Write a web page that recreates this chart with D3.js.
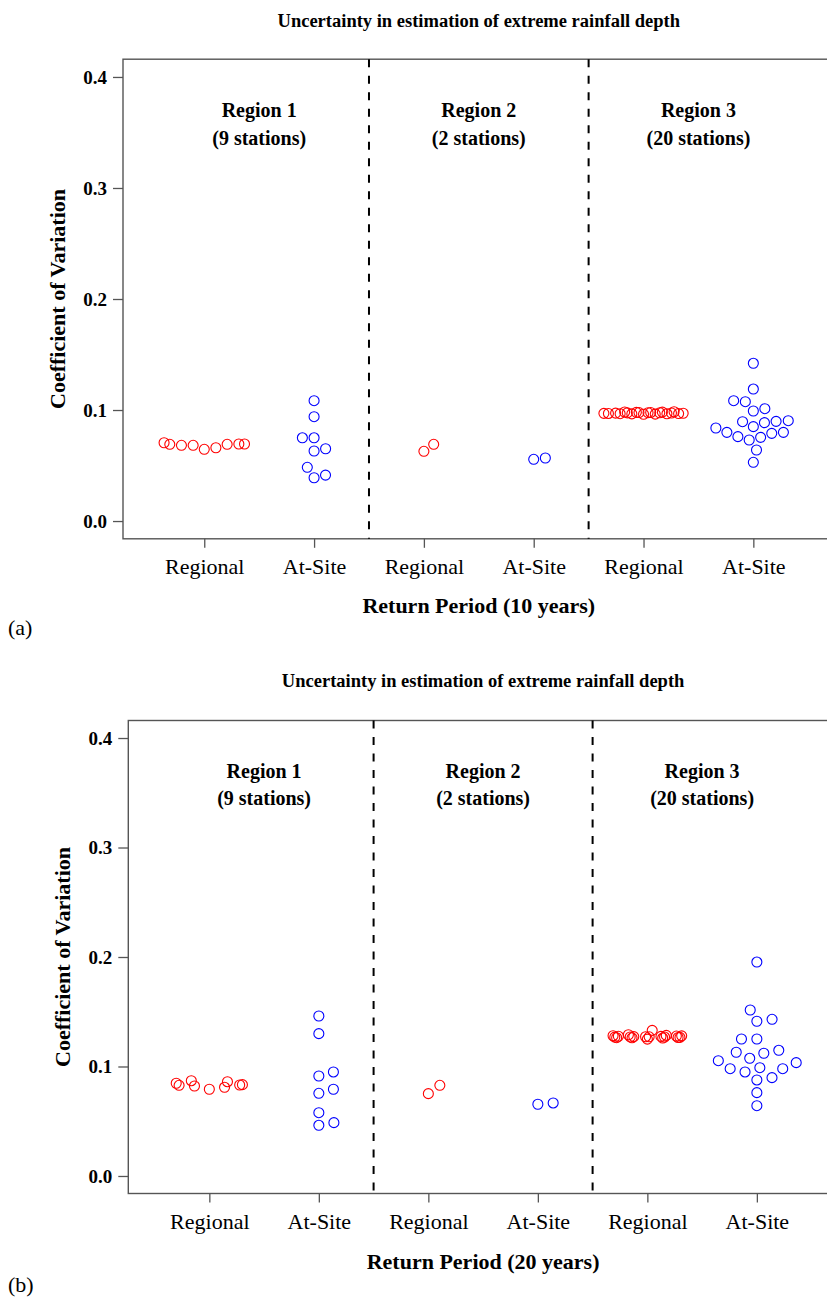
<!DOCTYPE html>
<html>
<head>
<meta charset="utf-8">
<script src="https://cdn.jsdelivr.net/npm/d3@7/dist/d3.min.js"></script>
<style>
  html, body { margin: 0; padding: 0; background: #fff; }
  svg { display: block; }
</style>
</head>
<body>
<svg id="chart" width="827" height="1298" font-family="'Liberation Serif', serif"></svg>
<script>
// ---------------- DATA ----------------
const chartTitle = "Uncertainty in estimation of extreme rainfall depth";
const yAxisTitle = "Coefficient of Variation";
const categories = ["Regional", "At-Site", "Regional", "At-Site", "Regional", "At-Site"];
const regionLabels = ["Region 1", "Region 2", "Region 3"];
const stationLabels = ["(9 stations)", "(2 stations)", "(20 stations)"];
const yTicks = [0.0, 0.1, 0.2, 0.3, 0.4];
const panelTags = ["(a)", "(b)"];
const xAxisTitles = ["Return Period (10 years)", "Return Period (20 years)"];

// Return period 10 years
const rp10_r1_regional = [0.0705, 0.0691, 0.0682, 0.0682, 0.0646, 0.0660, 0.0694, 0.0694, 0.0691];
const rp10_r1_atsite   = [0.1084, 0.0940, 0.0750, 0.0750, 0.0631, 0.0651, 0.0484, 0.0390, 0.0414];
const rp10_r2_regional = [0.0628, 0.0691];
const rp10_r2_atsite   = [0.0556, 0.0568];
const rp10_r3_regional = [0.0965, 0.0978, 0.0972, 0.0968, 0.0981, 0.0975, 0.0970, 0.0963, 0.0977, 0.0984,
                          0.0969, 0.0974, 0.0966, 0.0979, 0.0971, 0.0976, 0.0967, 0.0982, 0.0973, 0.0962];
const rp10_r3_atsite   = [0.1421, 0.1189, 0.1084, 0.1075, 0.0991, 0.1012, 0.0904, 0.0895, 0.0886, 0.0898,
                          0.0850, 0.0838, 0.0799, 0.0760, 0.0730, 0.0754, 0.0790, 0.0799, 0.0640, 0.0529];

// Return period 20 years
const rp20_r1_regional = [0.0847, 0.0828, 0.0870, 0.0822, 0.0792, 0.0861, 0.0810, 0.0831, 0.0834];
const rp20_r1_atsite   = [0.1461, 0.1300, 0.0913, 0.0950, 0.0755, 0.0792, 0.0578, 0.0463, 0.0487];
const rp20_r2_regional = [0.0752, 0.0828];
const rp20_r2_atsite   = [0.0655, 0.0667];
const rp20_r3_regional = [0.1268, 0.1275, 0.1262, 0.1280, 0.1271, 0.1265, 0.1290, 0.1330, 0.1250, 0.1273,
                          0.1266, 0.1278, 0.1260, 0.1284, 0.1270, 0.1276, 0.1263, 0.1272, 0.1269, 0.1281];
const rp20_r3_atsite   = [0.1954, 0.1516, 0.1413, 0.1431, 0.1251, 0.1251, 0.1130, 0.1148, 0.1075, 0.1121,
                          0.1035, 0.1053, 0.0989, 0.0980, 0.0980, 0.0950, 0.0898, 0.0877, 0.0761, 0.0642];

const groupColors = ["#ff0000", "#0000ff"]; // Regional, At-Site

// ---------------- LAYOUT ----------------
const panels = [
  { tag: panelTags[0], xtitle: xAxisTitles[0],
    groups: [rp10_r1_regional, rp10_r1_atsite, rp10_r2_regional, rp10_r2_atsite, rp10_r3_regional, rp10_r3_atsite],
    left: 123, right: 834.6, top: 59.2, bottom: 538.8,
    titleY: 27, tickLabY: 574, xTitleY: 613, tagY: 635, yTitleX: 57,
    swarmX: 11.7, swarmY: 12.8 },
  { tag: panelTags[1], xtitle: xAxisTitles[1],
    groups: [rp20_r1_regional, rp20_r1_atsite, rp20_r2_regional, rp20_r2_atsite, rp20_r3_regional, rp20_r3_atsite],
    left: 128.3, right: 837.9, top: 720.5, bottom: 1193.5,
    titleY: 687, tickLabY: 1229, xTitleY: 1269, tagY: 1292, yTitleX: 62,
    swarmX: 15.4, swarmY: 12.5 }
];

const FONT = "'Liberation Serif', serif";
const svg = d3.select("#chart");

// beeswarm "swarm" layout (ascending priority), offsets in pixels
function swarmOffsets(values, ys, dx, dy) {
  const order = d3.range(values.length).sort((a, b) => (values[a] - values[b]) || (a - b));
  const placed = [];
  const off = new Array(values.length).fill(0);
  for (const i of order) {
    const yi = ys(values[i]);
    const near = placed.filter(p => Math.abs(p.y - yi) < dy);
    const cands = [0];
    near.forEach(p => cands.push(p.x + dx * Math.sqrt(1 - Math.pow((p.y - yi) / dy, 2))));
    near.forEach(p => cands.push(p.x - dx * Math.sqrt(1 - Math.pow((p.y - yi) / dy, 2))));
    let best = Infinity, bestV = 0;
    for (const c of cands) {
      const bad = near.some(p => Math.pow((c - p.x) / dx, 2) + Math.pow((yi - p.y) / dy, 2) < 0.999);
      if (!bad && Math.abs(c) < best) { best = Math.abs(c); bestV = c; }
    }
    off[i] = bestV;
    placed.push({ x: bestV, y: yi });
  }
  return off;
}

panels.forEach(P => {
  const x = d3.scaleLinear().domain([0.26, 6.74]).range([P.left, P.right]);
  const y = d3.scaleLinear().domain([-0.016, 0.416]).range([P.bottom, P.top]);
  const unitPx = x(2) - x(1);
  const g = svg.append("g").attr("font-family", FONT);
  const midX = (P.left + P.right) / 2;

  // title
  g.append("text").attr("x", midX).attr("y", P.titleY)
    .attr("text-anchor", "middle").attr("font-weight", "bold").attr("font-size", 18.5)
    .attr("font-family", FONT)
    .text(chartTitle);

  // plot box
  g.append("rect").attr("x", P.left).attr("y", P.top)
    .attr("width", P.right - P.left).attr("height", P.bottom - P.top)
    .attr("fill", "none").attr("stroke", "#555").attr("stroke-width", 1.4);

  // y axis
  const yAxis = d3.axisLeft(y).tickValues(yTicks).tickFormat(d3.format(".1f")).tickSize(10).tickPadding(6);
  const ya = g.append("g").attr("transform", `translate(${P.left},0)`).call(yAxis);
  ya.attr("font-family", FONT);
  ya.select(".domain").remove();
  ya.selectAll(".tick line").attr("stroke", "#555").attr("stroke-width", 1.3);
  ya.selectAll(".tick text").attr("font-family", FONT)
    .attr("font-weight", "bold").attr("font-size", 19).attr("fill", "#000");

  // x axis
  const xAxis = d3.axisBottom(x).tickValues(d3.range(1, 7)).tickFormat(d => categories[d - 1]).tickSize(9).tickPadding(0);
  const xa = g.append("g").attr("transform", `translate(0,${P.bottom})`).call(xAxis);
  xa.attr("font-family", FONT);
  xa.select(".domain").remove();
  xa.selectAll(".tick line").attr("stroke", "#555").attr("stroke-width", 1.3);
  xa.selectAll(".tick text").attr("font-family", FONT)
    .attr("font-size", 22).attr("fill", "#000").attr("dy", null)
    .attr("y", P.tickLabY - P.bottom);

  // axis titles
  g.append("text").attr("x", midX).attr("y", P.xTitleY)
    .attr("text-anchor", "middle").attr("font-weight", "bold").attr("font-size", 22)
    .attr("font-family", FONT)
    .text(P.xtitle);
  g.append("text")
    .attr("transform", `translate(${P.yTitleX},${(P.top + P.bottom) / 2}) rotate(-90)`)
    .attr("text-anchor", "middle").attr("dominant-baseline", "central")
    .attr("font-weight", "bold").attr("font-size", 22)
    .attr("font-family", FONT)
    .text(yAxisTitle);

  // panel tag
  g.append("text").attr("x", 8).attr("y", P.tagY).attr("font-size", 22)
    .attr("font-family", FONT).text(P.tag);

  // dashed separators
  [2.5, 4.5].forEach(v => {
    g.append("line").attr("x1", x(v)).attr("x2", x(v)).attr("y1", P.top).attr("y2", P.bottom)
      .attr("stroke", "#000").attr("stroke-width", 2).attr("stroke-dasharray", "8,8.5");
  });

  // region labels
  regionLabels.forEach((lab, i) => {
    const cx = x(1.5 + 2 * i);
    g.append("text").attr("x", cx).attr("y", y(0.37)).attr("dy", "0.35em")
      .attr("text-anchor", "middle").attr("font-weight", "bold").attr("font-size", 20)
      .attr("font-family", FONT).text(lab);
    g.append("text").attr("x", cx).attr("y", y(0.345)).attr("dy", "0.35em")
      .attr("text-anchor", "middle").attr("font-weight", "bold").attr("font-size", 20)
      .attr("font-family", FONT).text(stationLabels[i]);
  });

  // points (beeswarm with wrapped corral)
  const corral = 1 - 2 * P.swarmX / unitPx;
  const half = corral / 2;
  P.groups.forEach((vals, gi) => {
    const offs = swarmOffsets(vals, y, P.swarmX, P.swarmY).map(o => {
      let u = o / unitPx;
      u = ((((u + half) % corral) + corral) % corral) - half;
      return u;
    });
    g.append("g").selectAll("circle").data(vals).join("circle")
      .attr("cx", (d, i) => x(gi + 1 + offs[i]))
      .attr("cy", d => y(d))
      .attr("r", 5)
      .attr("fill", "none")
      .attr("stroke", groupColors[gi % 2])
      .attr("stroke-width", 1.1);
  });
});
</script>
</body>
</html>
